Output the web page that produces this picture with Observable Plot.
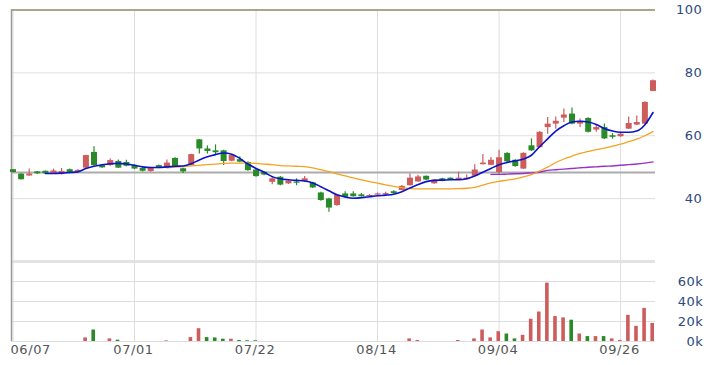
<!DOCTYPE html>
<html><head><meta charset="utf-8">
<script src="https://cdn.jsdelivr.net/npm/d3@7"></script>
<script src="https://cdn.jsdelivr.net/npm/@observablehq/plot@0.6"></script>
<style>
html,body{margin:0;padding:0;background:#fff;}
#wrap{position:relative;width:713px;height:365px;overflow:hidden;background:#fff;}
#wrap svg{position:absolute;left:0;top:0;}
</style></head><body><div id="wrap"></div>
<script>
const openP = [49.2,47.8,47.2,48.5,48.7,47.8,47.7,49.2,48.5,49.7,
54.7,50.5,50.5,51.8,51.5,50.5,49.6,48.6,50.5,49.6,
52.8,49.5,50.5,58.7,55.8,55.2,55.2,51.9,52.4,51.5,
49.1,48.4,45.2,46.8,44.7,45.3,45.4,45.0,41.8,39.9,
37.8,41.5,41.5,41.2,40.6,41.1,41.2,42.2,42.6,44.1,
45.3,47.1,44.7,46.3,46.5,46.0,46.0,47.1,50.8,50.6,
48.3,54.4,52.2,49.4,56.8,56.2,62.6,63.7,65.6,66.9,
63.7,65.5,61.8,62.6,60.0,59.7,62.1,63.4,63.7,74.1];
const closeP = [48.3,46.0,47.8,47.9,47.9,48.8,48.6,48.1,49.0,53.7,
50.5,49.8,52.1,49.7,50.3,49.4,48.7,49.7,49.6,51.3,
49.9,48.5,54.0,55.8,55.0,54.6,51.8,53.7,51.6,48.9,
47.0,47.5,46.3,44.3,45.5,44.9,46.3,43.4,39.4,37.0,
41.0,40.4,40.6,40.6,41.0,41.5,41.6,41.6,43.9,46.5,
46.9,45.9,45.9,45.5,46.0,46.5,46.5,49.1,51.3,52.2,
53.0,51.7,50.2,54.4,55.2,61.1,63.7,64.6,66.6,63.7,
64.6,61.1,62.6,59.0,59.5,60.5,63.9,64.2,70.6,77.5];
const highP = [49.3,47.9,49.4,48.6,48.8,49.4,49.6,49.4,49.2,53.8,
56.5,50.7,52.6,52.3,52.2,50.7,49.8,49.9,50.7,52.3,
53.0,49.7,54.1,58.8,56.8,57.1,55.4,53.9,53.3,51.7,
49.3,48.6,47.0,47.0,45.8,46.3,47.0,45.2,42.0,40.1,
41.2,42.2,42.2,41.6,41.3,41.8,42.0,42.5,44.2,47.8,
47.4,47.2,46.0,46.5,46.6,48.4,47.5,50.8,54.0,53.1,
55.4,54.6,52.4,54.6,59.0,61.3,65.8,66.0,68.5,68.8,
65.3,65.7,63.5,63.7,60.7,60.8,66.0,66.3,70.8,77.7];
const lowP = [48.2,45.9,47.1,47.7,47.7,47.7,47.5,47.9,48.4,49.6,
50.3,49.6,50.3,49.6,50.1,49.2,48.5,48.4,49.5,49.5,
49.8,48.0,50.4,54.2,54.2,54.0,50.5,51.7,51.4,48.7,
46.8,47.3,44.4,44.1,44.5,44.1,45.2,43.2,39.2,35.7,
37.6,40.2,40.4,40.4,40.4,40.9,41.0,41.4,42.5,44.0,
45.2,45.8,44.6,45.4,45.9,45.9,45.9,47.0,50.7,50.5,
47.6,51.5,50.0,49.3,55.0,56.0,60.5,62.1,64.2,63.5,
62.6,60.9,61.1,58.8,58.9,59.5,62.0,63.2,63.5,74.0];
const volumeK = [0,0,0,0,0,0,0,0,0,3.6,
11.5,0,2.6,1.3,0,0,0,0,0,0.6,
0,0,3.9,12.8,3.9,3.6,2.3,2.3,1.0,0.7,
0.7,0,0,0,0,0,0,0,0,0,
0,0,0,0,0,0,0,0,0,2.6,
1.0,0,0,0,0,1.0,0,2.6,11.5,3.6,
9.8,7.5,2.6,6.2,22.3,29.5,58.4,24.9,23.6,21.3,
7.5,4.9,4.9,4.9,2.6,1.0,26.2,15.1,33.1,18.0];
const ma5 = [null,null,null,null,48.0,48.0,48.1,48.3,48.5,49.6,
50.3,50.8,51.1,51.2,51.0,50.6,50.1,49.9,49.9,50.1,
50.3,50.4,51.1,52.3,53.3,54.0,54.5,54.1,52.8,51.0,
49.6,48.4,47.0,46.3,46.0,45.8,45.6,45.0,43.8,42.5,
41.2,40.5,40.1,40.3,40.6,40.9,41.1,41.4,42.2,43.4,
44.5,45.4,45.8,45.9,46.0,46.0,46.3,47.2,48.4,49.6,
50.8,51.5,52.0,52.6,53.8,56.5,59.0,61.5,63.2,64.4,
64.6,64.4,63.6,62.3,61.5,61.1,61.1,61.5,63.5,67.4];
const ma20 = [null,null,null,null,null,null,null,null,null,null,
null,null,null,null,null,null,null,null,null,49.8,
50.0,50.2,50.4,50.6,50.8,51.0,51.2,51.3,51.3,51.3,
51.2,51.0,50.8,50.5,50.4,50.3,50.2,49.8,49.2,48.6,
47.9,47.2,46.6,46.0,45.4,44.9,44.4,43.9,43.5,43.2,
43.1,43.1,43.1,43.1,43.1,43.2,43.3,43.6,44.3,45.0,
45.5,45.9,46.3,46.9,47.6,48.8,50.0,51.5,52.6,53.5,
54.4,55.0,55.6,56.1,56.7,57.3,58.1,58.9,60.0,61.3];
const ma60 = [null,null,null,null,null,null,null,null,null,null,
null,null,null,null,null,null,null,null,null,null,
null,null,null,null,null,null,null,null,null,null,
null,null,null,null,null,null,null,null,null,null,
null,null,null,null,null,null,null,null,null,null,
null,null,null,null,null,null,null,null,null,47.7,
47.7,47.8,47.9,48.0,48.2,48.4,49.0,49.2,49.4,49.6,
49.8,50.0,50.1,50.3,50.4,50.6,50.8,51.0,51.3,51.7];
const dateTickIndex = [0,15,30,45,60,75];
const dateTickLabels = ["06/07","07/01","07/22","08/14","09/04","09/26"];
const priceTicks = [40,60,80,100];
const volumeTicks = [0,20000,40000,60000];
const referencePrice = 48.3;

const RED = "#cd5c5c", GREEN = "#2a8a2a";
const candles = openP.map((o,i)=>({
  i, open:o, close:closeP[i], high:highP[i], low:lowP[i],
  vol: volumeK[i]*1000,
  up: closeP[i] >= o,
  volUp: i === 0 ? true : closeP[i] >= closeP[i-1],
  ma5: ma5[i], ma20: ma20[i], ma60: ma60[i]
}));

const W = 713, H = 365;
const xDomain = [-0.185, 79.31];
const font = {fontFamily:"DejaVu Sans", fontSize:"13px", letterSpacing:"0.6px", background:"transparent"};

const main = Plot.plot({
  width: W, height: H, marginTop: 9.5, marginBottom: 104, marginLeft: 11, marginRight: 58,
  x: {domain: xDomain, axis: null},
  y: {domain: [20,100], axis: null},
  color: {type: "identity"},
  style: font,
  marks: [
    Plot.ruleY(priceTicks.filter(v => v < 100), {y: d => d, stroke: "#dedede"}),
    Plot.ruleX(dateTickIndex, {x: d => d, y1: 20, y2: 100, stroke: "#dedede"}),
    Plot.ruleY([20], {y: d => d, stroke: "#e3e3e3", strokeWidth: 3}),
    Plot.ruleY([referencePrice], {y: d => d, stroke: "#ababab", strokeWidth: 2}),
    Plot.ruleY([100], {y: d => d, stroke: "#a8a78c", strokeWidth: 2}),
    Plot.ruleX([xDomain[0]], {x: d => d, y1: 20, y2: 100, stroke: "#9a9a9a", strokeWidth: 1.5}),
    Plot.ruleX(candles, {x: "i", y1: "low", y2: "high", stroke: d => d.up ? RED : GREEN, strokeWidth: 1.2}),
    Plot.ruleX(candles, {x: "i", y1: "open", y2: "close", stroke: d => d.up ? RED : GREEN, strokeWidth: 6}),
    Plot.line(candles, {x: "i", y: "ma60", stroke: "#9b30c8", strokeWidth: 1.4, curve: "monotone-x"}),
    Plot.line(candles, {x: "i", y: "ma20", stroke: "#f4a321", strokeWidth: 1.3, curve: "monotone-x"}),
    Plot.line(candles, {x: "i", y: "ma5", stroke: "#0a14c8", strokeWidth: 1.6, curve: "monotone-x"}),
    Plot.text(priceTicks, {y: d => d, text: d => String(d), frameAnchor: "right", textAnchor: "end", dx: 47, fill: "#2c4a7a", fontSize: 13})
  ]
});

const vol = Plot.plot({
  width: W, height: H, marginTop: 261, marginBottom: 24, marginLeft: 11, marginRight: 58,
  x: {domain: xDomain, axis: null},
  y: {domain: [0, 80000], axis: null},
  color: {type: "identity"},
  style: font,
  marks: [
    Plot.ruleY(volumeTicks, {y: d => d, stroke: "#dedede"}),
    Plot.ruleX(dateTickIndex, {x: d => d, y1: 0, y2: 80000, stroke: "#dedede"}),
    Plot.ruleX([xDomain[0]], {x: d => d, y1: 0, y2: 80000, stroke: "#9a9a9a", strokeWidth: 1.5}),
    Plot.ruleX(candles.filter(d => d.vol > 0), {x: "i", y1: 0, y2: "vol", stroke: d => d.volUp ? RED : GREEN, strokeWidth: 3.6, dx: -0.8}),
    Plot.text(volumeTicks, {y: d => d, text: d => `${d/1000}k`, frameAnchor: "right", textAnchor: "end", dx: 48, fill: "#2c4a7a", fontSize: 13}),
    Plot.text(dateTickIndex.slice(0,1), {x: d => d, text: (d,i) => dateTickLabels[i], frameAnchor: "bottom", textAnchor: "start", dx: -2.5, dy: 12, fill: "#555", fontSize: 13}),
    Plot.text(dateTickIndex.slice(1), {x: d => d, text: (d,i) => dateTickLabels[i+1], frameAnchor: "bottom", dy: 12, dx: -1, fill: "#555", fontSize: 13})
  ]
});

const wrap = document.getElementById("wrap");
wrap.appendChild(main);
wrap.appendChild(vol);
</script></body></html>
